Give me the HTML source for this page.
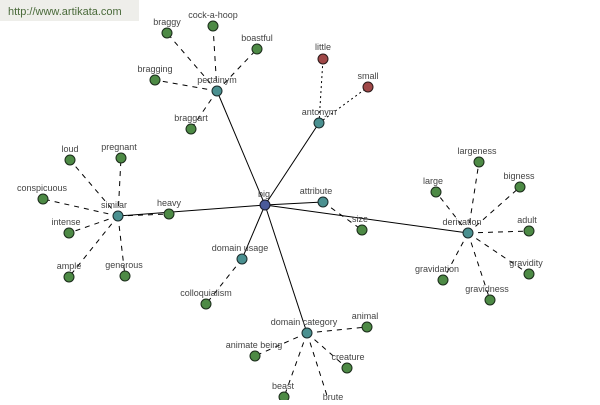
<!DOCTYPE html>
<html><head><meta charset="utf-8"><style>
html,body{margin:0;padding:0;background:#fff}
svg text{font-family:"Liberation Sans",sans-serif;font-size:9px;fill:#444;text-anchor:middle}
</style></head><body>
<svg width="600" height="400" xmlns="http://www.w3.org/2000/svg">
<rect x="0" y="0" width="139" height="21" fill="#eeeeea"/>
<text x="8" y="15" style="font-size:11px;fill:#4a6a3a;text-anchor:start">http://www.artikata.com</text>
<g stroke="#000" stroke-width="1">
<line x1="265" y1="205" x2="217" y2="91"/>
<line x1="265" y1="205" x2="319" y2="123"/>
<line x1="265" y1="205" x2="323" y2="202"/>
<line x1="265" y1="205" x2="118" y2="216"/>
<line x1="265" y1="205" x2="242" y2="259"/>
<line x1="265" y1="205" x2="307" y2="333"/>
<line x1="265" y1="205" x2="468" y2="233"/>
</g>
<g stroke="#000" stroke-width="1" stroke-dasharray="5,5">
<line x1="217" y1="91" x2="167" y2="33"/>
<line x1="217" y1="91" x2="213" y2="26"/>
<line x1="217" y1="91" x2="257" y2="49"/>
<line x1="217" y1="91" x2="155" y2="80"/>
<line x1="217" y1="91" x2="191" y2="129"/>
<line x1="323" y1="202" x2="362" y2="230"/>
<line x1="118" y1="216" x2="70" y2="160"/>
<line x1="118" y1="216" x2="121" y2="158"/>
<line x1="118" y1="216" x2="43" y2="199"/>
<line x1="118" y1="216" x2="69" y2="233"/>
<line x1="118" y1="216" x2="69" y2="277"/>
<line x1="118" y1="216" x2="125" y2="276"/>
<line x1="118" y1="216" x2="169" y2="214"/>
<line x1="468" y1="233" x2="479" y2="162"/>
<line x1="468" y1="233" x2="436" y2="192"/>
<line x1="468" y1="233" x2="520" y2="187"/>
<line x1="468" y1="233" x2="529" y2="231"/>
<line x1="468" y1="233" x2="529" y2="274"/>
<line x1="468" y1="233" x2="490" y2="300"/>
<line x1="468" y1="233" x2="443" y2="280"/>
<line x1="242" y1="259" x2="206" y2="304"/>
<line x1="307" y1="333" x2="367" y2="327"/>
<line x1="307" y1="333" x2="255" y2="356"/>
<line x1="307" y1="333" x2="347" y2="368"/>
<line x1="307" y1="333" x2="284" y2="397"/>
<line x1="307" y1="333" x2="330" y2="405"/>
</g>
<g stroke="#000" stroke-width="1" stroke-dasharray="2,3">
<line x1="319" y1="123" x2="323" y2="59"/>
<line x1="319" y1="123" x2="368" y2="87"/>
</g>
<g stroke="#1a2a1a" stroke-width="1" fill="#4d8a45">
<circle cx="167" cy="33" r="5"/><circle cx="213" cy="26" r="5"/><circle cx="257" cy="49" r="5"/>
<circle cx="155" cy="80" r="5"/><circle cx="191" cy="129" r="5"/><circle cx="362" cy="230" r="5"/>
<circle cx="70" cy="160" r="5"/><circle cx="121" cy="158" r="5"/><circle cx="43" cy="199" r="5"/>
<circle cx="69" cy="233" r="5"/><circle cx="69" cy="277" r="5"/><circle cx="125" cy="276" r="5"/>
<circle cx="169" cy="214" r="5"/><circle cx="479" cy="162" r="5"/><circle cx="436" cy="192" r="5"/>
<circle cx="520" cy="187" r="5"/><circle cx="529" cy="231" r="5"/><circle cx="529" cy="274" r="5"/>
<circle cx="490" cy="300" r="5"/><circle cx="443" cy="280" r="5"/><circle cx="206" cy="304" r="5"/>
<circle cx="367" cy="327" r="5"/><circle cx="255" cy="356" r="5"/><circle cx="347" cy="368" r="5"/>
<circle cx="284" cy="397" r="5"/>
</g>
<g stroke="#1a2a2a" stroke-width="1" fill="#4a9090">
<circle cx="217" cy="91" r="5"/><circle cx="319" cy="123" r="5"/><circle cx="323" cy="202" r="5"/>
<circle cx="118" cy="216" r="5"/><circle cx="242" cy="259" r="5"/><circle cx="307" cy="333" r="5"/>
<circle cx="468" cy="233" r="5"/>
</g>
<g stroke="#2a1a1a" stroke-width="1" fill="#a04848">
<circle cx="323" cy="59" r="5"/><circle cx="368" cy="87" r="5"/>
</g>
<circle cx="265" cy="205" r="5" fill="#4a5a9a" stroke="#1a1a2a"/>
<text x="167" y="25">braggy</text><text x="213" y="18">cock-a-hoop</text><text x="257" y="41">boastful</text>
<text x="155" y="72">bragging</text><text x="191" y="121">braggart</text><text x="217" y="83">pertainym</text>
<text x="319" y="115">antonym</text><text x="323" y="50">little</text><text x="368" y="79">small</text>
<text x="316" y="194">attribute</text><text x="360" y="222">size</text><text x="264" y="197">big</text>
<text x="70" y="152">loud</text><text x="119" y="150">pregnant</text><text x="42" y="191">conspicuous</text>
<text x="66" y="225">intense</text><text x="69" y="269">ample</text><text x="124" y="268">generous</text>
<text x="169" y="206">heavy</text><text x="114" y="208">similar</text>
<text x="477" y="154">largeness</text><text x="433" y="184">large</text><text x="519" y="179">bigness</text>
<text x="527" y="223">adult</text><text x="526" y="266">gravidity</text><text x="487" y="292">gravidness</text>
<text x="437" y="272">gravidation</text><text x="462" y="225">derivation</text>
<text x="240" y="251">domain usage</text><text x="206" y="296">colloquialism</text>
<text x="304" y="325">domain category</text><text x="365" y="319">animal</text><text x="254" y="348">animate being</text>
<text x="348" y="360">creature</text><text x="283" y="389">beast</text><text x="333" y="400">brute</text>
</svg>
</body></html>
